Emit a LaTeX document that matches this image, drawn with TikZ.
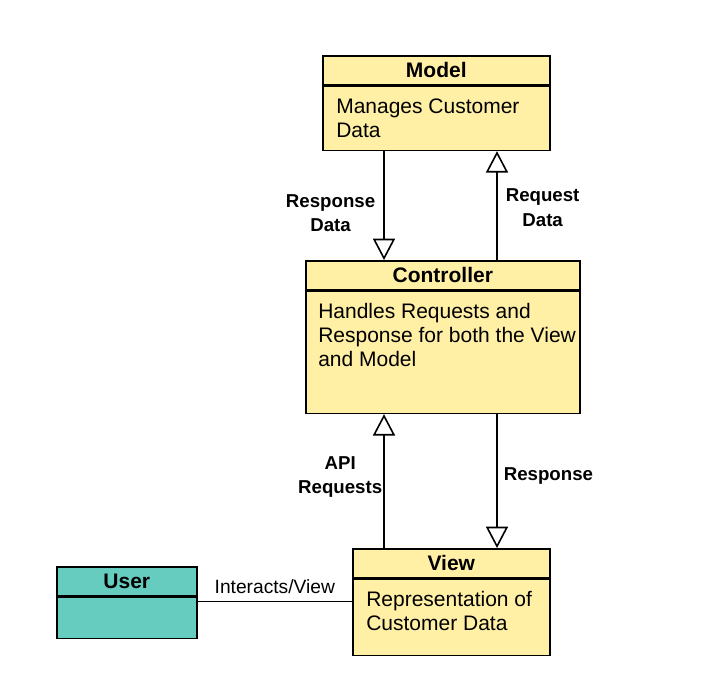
\documentclass[tikz,border=0pt]{standalone}
\usepackage{fontspec}
\setmainfont{Liberation Sans}
\usepackage{xcolor}
\usetikzlibrary{positioning,arrows.meta}

\definecolor{classyellow}{RGB}{255,240,166}
\definecolor{usergreen}{RGB}{102,204,191}

\begin{document}
\begin{tikzpicture}[x=0.75pt,y=0.75pt,yscale=-1,xscale=1,
  classhead/.style={draw, line width=1.2pt, fill=classyellow, anchor=north west, inner sep=0pt, minimum height=21.75pt, font=\bfseries\fontsize{15.75}{18}\selectfont},
  classbody/.style={draw, line width=1.2pt, fill=classyellow, anchor=north west, inner sep=0pt},
  bodytext/.style={inner sep=0pt, align=left, font=\fontsize{15.75}{18}\selectfont},
  edgelabel/.style={inner sep=0pt, align=center, font=\bfseries\fontsize{14}{18.5}\selectfont},
  umlarrow/.style={line width=1.2pt, -{Triangle[open, length=16pt, width=16.5pt, fill=white]}}
]

\useasboundingbox (0,0) rectangle (721,691);

% classes
\node [classhead, minimum width=170.25pt] (modelh) at (322,55) {Model};
\node [classbody, minimum width=170.25pt, minimum height=48pt] (modelb) at (modelh.south west) {};
\node [bodytext, below right=9.5pt and 10.5pt of modelb.north west] (modelt) {Manages Customer\\Data};

\node [classhead, minimum width=205.5pt] (ctrlh) at (305,260) {Controller};
\node [classbody, minimum width=205.5pt, minimum height=91.5pt] (ctrlb) at (ctrlh.south west) {};
\node [bodytext, below right=9.5pt and 9.75pt of ctrlb.north west] (ctrlt) {Handles Requests and\\Response for both the View\\and Model};

\node [classhead, minimum width=147.75pt] (viewh) at (352,548) {View};
\node [classbody, minimum width=147.75pt, minimum height=57pt] (viewb) at (viewh.south west) {};
\node [bodytext, below right=9.5pt and 10.5pt of viewb.north west] (viewt) {Representation of\\Customer Data};

\node [classhead, fill=usergreen, minimum width=105pt] (userh) at (56,566) {User};
\node [classbody, fill=usergreen, minimum width=105pt, minimum height=30.75pt] (userb) at (userh.south west) {};

% connectors
\coordinate (lcol) at (384,0);
\coordinate (rcol) at (497,0);
\coordinate (link) at (0,601.5);

\draw [umlarrow] (lcol |- modelb.south) -- (lcol |- ctrlh.north)
  node [edgelabel, midway, left=6pt, yshift=-5.6pt] {Response\\Data};
\draw [umlarrow] (rcol |- ctrlh.north) -- (rcol |- modelb.south)
  node [edgelabel, midway, right=6pt, yshift=-1.5pt] {Request\\Data};
\draw [umlarrow] (lcol |- viewh.north) -- (lcol |- ctrlb.south)
  node [edgelabel, midway, left=0.75pt, yshift=3pt] {API\\Requests};
\draw [umlarrow] (rcol |- ctrlb.south) -- (rcol |- viewh.north)
  node [edgelabel, midway, right=4.5pt, yshift=4pt] {Response};
\draw [line width=1.2pt] (link -| userb.east) -- (link -| viewb.west)
  node [midway, above=5pt, inner sep=0pt, font=\fontsize{14.4}{17}\selectfont] {Interacts/View};

\end{tikzpicture}
\end{document}
